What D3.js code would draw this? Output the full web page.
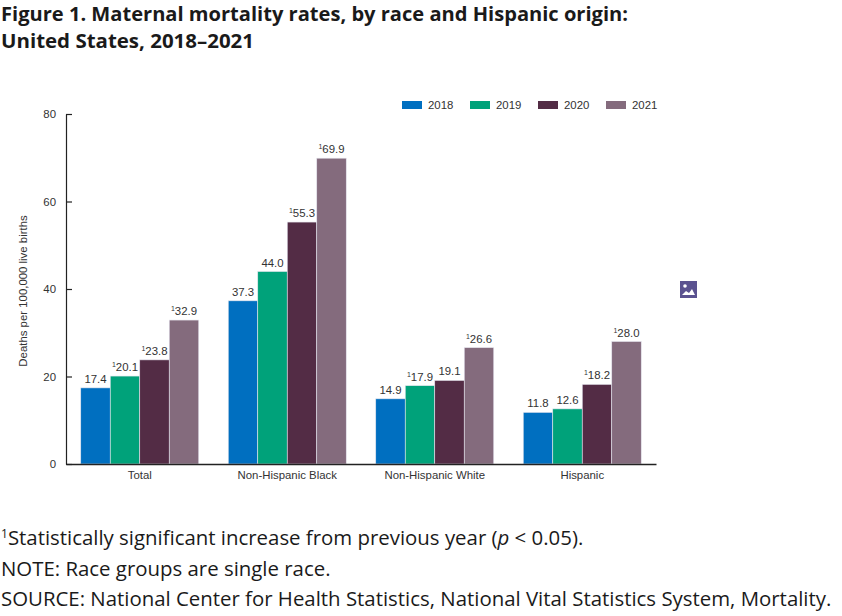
<!DOCTYPE html>
<html><head><meta charset="utf-8">
<script src="https://cdn.jsdelivr.net/npm/d3@7"></script>
<style>
body{margin:0;background:#fff;}
svg{display:block;}
</style></head>
<body>
<svg id="c" width="842" height="616"></svg>
<script>
const categories = ["Total","Non-Hispanic Black","Non-Hispanic White","Hispanic"];
const years = ["2018","2019","2020","2021"];
const v2018 = [17.4, 37.3, 14.9, 11.8];
const v2019 = [20.1, 44.0, 17.9, 12.6];
const v2020 = [23.8, 55.3, 19.1, 18.2];
const v2021 = [32.9, 69.9, 26.6, 28.0];
const sig2018 = [false,false,false,false];
const sig2019 = [true,false,true,false];
const sig2020 = [true,true,false,true];
const sig2021 = [true,true,true,true];
const yTicks = [0,20,40,60,80];
const colors = ["#006FC0","#00A27A","#532C45","#846B7D"];

const series = [v2018,v2019,v2020,v2021];
const sigs = [sig2018,sig2019,sig2020,sig2021];

const svg = d3.select("#c");
const chartFont = "'Liberation Sans', Arial, sans-serif";
const fs = "11.4px";

// Title
const title = svg.append("g").attr("font-family","'Open Sans', sans-serif").attr("font-weight","bold").attr("font-size","19px").attr("fill","#1a1a1a");
title.append("text").attr("x",1).attr("y",21).attr("textLength",627).attr("lengthAdjust","spacingAndGlyphs").text("Figure 1. Maternal mortality rates, by race and Hispanic origin:");
title.append("text").attr("x",1).attr("y",48).attr("textLength",253).attr("lengthAdjust","spacingAndGlyphs").text("United States, 2018–2021");

const x0 = d3.scaleBand().domain(categories).range([66,656]).paddingInner(0.2).paddingOuter(0.1);
const x1 = d3.scaleBand().domain(years).range([0,x0.bandwidth()]);
const y = d3.scaleLinear().domain([0,80]).range([464,114]);

// bars
const g = svg.append("g");
categories.forEach((c,i)=>{
  years.forEach((yr,j)=>{
    const val = series[j][i];
    g.append("rect")
      .attr("x", x0(c)+x1(yr))
      .attr("y", y(val))
      .attr("width", x1.bandwidth())
      .attr("height", y(0)-y(val))
      .attr("fill", colors[j])
      .attr("stroke","#e6e6ee").attr("stroke-width",0.6);
    const t = g.append("text")
      .attr("x", x0(c)+x1(yr)+x1.bandwidth()/2)
      .attr("y", y(val)-5)
      .attr("text-anchor","middle")
      .attr("font-family",chartFont).attr("font-size",fs).attr("fill","#333");
    if (sigs[j][i]) {
      t.append("tspan").attr("font-size","7px").attr("dy","-4").text("1");
      t.append("tspan").attr("dy","4").text(val.toFixed(1));
    } else {
      t.text(val.toFixed(1));
    }
  });
});

// y axis
const yAxis = d3.axisLeft(y).tickValues(yTicks).tickSize(-6).tickPadding(10).tickSizeOuter(0);
const ya = svg.append("g").attr("transform","translate(66,0)").call(yAxis);
ya.select(".domain").attr("stroke","#222").attr("stroke-width",1.2);
ya.selectAll(".tick line").attr("stroke","#222").attr("stroke-width",1.2);
ya.selectAll("text").attr("font-family",chartFont).attr("font-size",fs).attr("fill","#333");

// x axis
const xAxis = d3.axisBottom(x0).tickSize(0).tickPadding(7).tickSizeOuter(0);
const xa = svg.append("g").attr("transform","translate(0,464)").call(xAxis);
xa.select(".domain").attr("stroke","#222").attr("stroke-width",1.4);
xa.selectAll("text").attr("font-family",chartFont).attr("font-size",fs).attr("fill","#333");

// y label
svg.append("text").attr("transform","translate(27,291) rotate(-90)")
  .attr("text-anchor","middle").attr("font-family",chartFont).attr("font-size",fs).attr("fill","#333")
  .text("Deaths per 100,000 live births");

// legend
const lg = svg.append("g");
years.forEach((yr,j)=>{
  const lx = 402 + j*68;
  lg.append("rect").attr("x",lx).attr("y",101).attr("width",20).attr("height",8).attr("fill",colors[j]);
  lg.append("text").attr("x",lx+26).attr("y",109).attr("font-family",chartFont).attr("font-size",fs).attr("fill","#333").text(yr);
});

// image icon
const ic = svg.append("g").attr("transform","translate(680,281)");
ic.append("rect").attr("width",17).attr("height",17).attr("fill","#5B5290");
ic.append("circle").attr("cx",5).attr("cy",5).attr("r",1.8).attr("fill","#fff");
ic.append("path").attr("d","M2,14 L6,10 L9,12 L12,8 L15,14 Z").attr("fill","#fff");

// footnotes
const ft = svg.append("g").attr("font-family","'Open Sans', sans-serif").attr("font-size","20.4px").attr("fill","#1a1a1a");
const f1 = ft.append("text").attr("x",1).attr("y",545);
f1.append("tspan").attr("font-size","12px").attr("dy","-7").text("1");
f1.append("tspan").attr("dy","7").text("Statistically significant increase from previous year (");
f1.append("tspan").attr("font-style","italic").text("p");
f1.append("tspan").text(" < 0.05).");
ft.append("text").attr("x",1).attr("y",576).text("NOTE: Race groups are single race.");
ft.append("text").attr("x",1).attr("y",606).text("SOURCE: National Center for Health Statistics, National Vital Statistics System, Mortality.");
</script>
</body></html>
